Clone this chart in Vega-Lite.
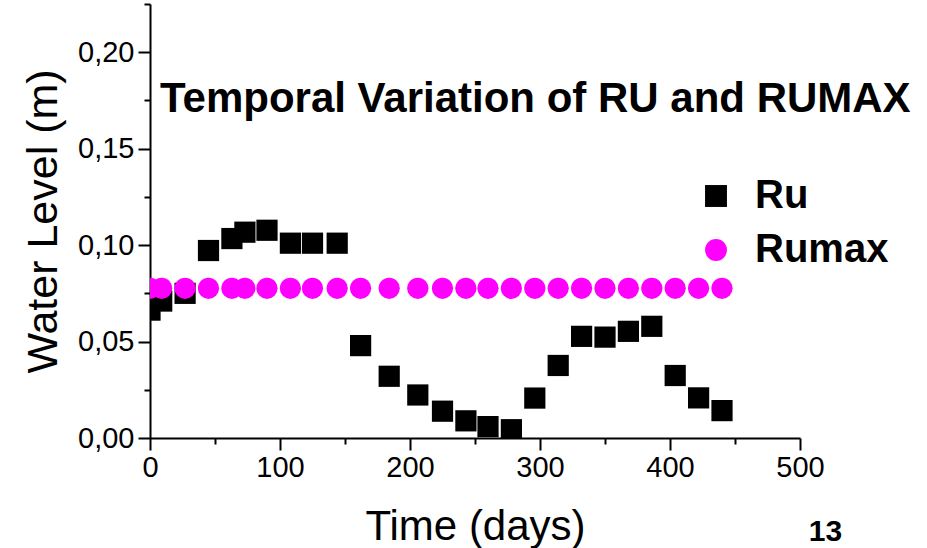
{
  "$schema": "https://vega.github.io/schema/vega-lite/v6.json",
  "width": 650,
  "height": 434,
  "autosize": {"type": "none"},
  "padding": {"left": 150, "top": 4, "right": 127, "bottom": 110},
  "background": "white",
  "config": {
    "view": {"stroke": null},
    "font": "Liberation Sans",
    "axis": {"grid": false, "domainColor": "black", "domainWidth": 2, "tickColor": "black", "tickWidth": 2, "labelColor": "black", "titleColor": "black", "labelFont": "Liberation Sans", "titleFont": "Liberation Sans"}
  },
  "title": {
    "text": "Temporal Variation of RU and RUMAX",
    "anchor": "start",
    "frame": "group",
    "dx": 10,
    "dy": 135,
    "fontSize": 42,
    "fontWeight": "bold",
    "font": "Liberation Sans",
    "color": "black"
  },
  "data": {
    "values": [
      {"day": 0, "series": "Ru", "value": 0.0663},
      {"day": 9, "series": "Ru", "value": 0.0710},
      {"day": 27, "series": "Ru", "value": 0.0750},
      {"day": 45, "series": "Ru", "value": 0.0972},
      {"day": 63, "series": "Ru", "value": 0.1034},
      {"day": 73, "series": "Ru", "value": 0.1067},
      {"day": 90, "series": "Ru", "value": 0.1077},
      {"day": 108, "series": "Ru", "value": 0.1010},
      {"day": 125, "series": "Ru", "value": 0.1010},
      {"day": 144, "series": "Ru", "value": 0.1010},
      {"day": 162, "series": "Ru", "value": 0.0479},
      {"day": 184, "series": "Ru", "value": 0.0320},
      {"day": 206, "series": "Ru", "value": 0.0223},
      {"day": 225, "series": "Ru", "value": 0.0139},
      {"day": 243, "series": "Ru", "value": 0.0089},
      {"day": 260, "series": "Ru", "value": 0.0059},
      {"day": 278, "series": "Ru", "value": 0.0043},
      {"day": 296, "series": "Ru", "value": 0.0207},
      {"day": 314, "series": "Ru", "value": 0.0376},
      {"day": 332, "series": "Ru", "value": 0.0527},
      {"day": 350, "series": "Ru", "value": 0.0523},
      {"day": 368, "series": "Ru", "value": 0.0553},
      {"day": 386, "series": "Ru", "value": 0.0579},
      {"day": 404, "series": "Ru", "value": 0.0324},
      {"day": 422, "series": "Ru", "value": 0.0208},
      {"day": 440, "series": "Ru", "value": 0.0142},
      {"day": 0, "series": "Rumax", "value": 0.0776},
      {"day": 9, "series": "Rumax", "value": 0.0776},
      {"day": 27, "series": "Rumax", "value": 0.0776},
      {"day": 45, "series": "Rumax", "value": 0.0776},
      {"day": 63, "series": "Rumax", "value": 0.0776},
      {"day": 73, "series": "Rumax", "value": 0.0776},
      {"day": 90, "series": "Rumax", "value": 0.0776},
      {"day": 108, "series": "Rumax", "value": 0.0776},
      {"day": 125, "series": "Rumax", "value": 0.0776},
      {"day": 144, "series": "Rumax", "value": 0.0776},
      {"day": 162, "series": "Rumax", "value": 0.0776},
      {"day": 184, "series": "Rumax", "value": 0.0776},
      {"day": 206, "series": "Rumax", "value": 0.0776},
      {"day": 225, "series": "Rumax", "value": 0.0776},
      {"day": 243, "series": "Rumax", "value": 0.0776},
      {"day": 260, "series": "Rumax", "value": 0.0776},
      {"day": 278, "series": "Rumax", "value": 0.0776},
      {"day": 296, "series": "Rumax", "value": 0.0776},
      {"day": 314, "series": "Rumax", "value": 0.0776},
      {"day": 332, "series": "Rumax", "value": 0.0776},
      {"day": 350, "series": "Rumax", "value": 0.0776},
      {"day": 368, "series": "Rumax", "value": 0.0776},
      {"day": 386, "series": "Rumax", "value": 0.0776},
      {"day": 404, "series": "Rumax", "value": 0.0776},
      {"day": 422, "series": "Rumax", "value": 0.0776},
      {"day": 440, "series": "Rumax", "value": 0.0776}
    ]
  },
  "layer": [
    {
      "mark": {"type": "point", "filled": true, "opacity": 1, "size": 450, "clip": true},
      "encoding": {
        "x": {
          "field": "day", "type": "quantitative",
          "scale": {"domain": [0, 500], "nice": false, "zero": false},
          "axis": {
            "values": [0, 50, 100, 150, 200, 250, 300, 350, 400, 450, 500],
            "labelExpr": "datum.value % 100 == 0 ? datum.label : ''",
            "format": "d",
            "tickSize": {"condition": {"test": "datum.value % 100 == 0", "value": 12}, "value": 6},
            "labelFontSize": 29,
            "labelPadding": 3,
            "labelFlush": false,
            "labelOverlap": false,
            "title": "Time (days)",
            "titleFontSize": 42,
            "titleFontWeight": "normal",
            "titlePadding": 24
          }
        },
        "y": {
          "field": "value", "type": "quantitative",
          "scale": {"domain": [0, 0.225], "nice": false, "zero": true},
          "axis": {
            "values": [0, 0.025, 0.05, 0.075, 0.1, 0.125, 0.15, 0.175, 0.2, 0.225],
            "labelExpr": "abs(datum.value*20 - round(datum.value*20)) < 0.001 && datum.value < 0.21 ? replace(format(datum.value, '.2f'), '.', ',') : ''",
            "tickSize": {"condition": {"test": "abs(datum.value*20 - round(datum.value*20)) < 0.001", "value": 12}, "value": 6},
            "labelFontSize": 29,
            "labelPadding": 4,
            "labelFlush": false,
            "labelOverlap": false,
            "title": "Water Level (m)",
            "titleFontSize": 43,
            "titleFontWeight": "normal",
            "titlePadding": 12
          }
        },
        "color": {
          "field": "series", "type": "nominal",
          "scale": {"domain": ["Ru", "Rumax"], "range": ["#000000", "#ff00ff"]},
          "legend": {
            "title": null,
            "orient": "none",
            "legendX": 546,
            "legendY": 172,
            "padding": 0,
            "symbolSize": 480,
            "symbolStrokeWidth": 0,
            "labelFontSize": 40,
            "labelFontWeight": "bold",
            "labelColor": "black",
            "labelFont": "Liberation Sans",
            "labelOffset": 19,
            "rowPadding": 14
          }
        },
        "shape": {
          "field": "series", "type": "nominal",
          "scale": {"domain": ["Ru", "Rumax"], "range": ["square", "circle"]}
        }
      }
    },
    {
      "mark": {"type": "point", "opacity": 0},
      "encoding": {
        "x": {"field": "day", "type": "quantitative"},
        "y": {
          "field": "value", "type": "quantitative",
          "axis": {
            "orient": "right",
            "domain": false,
            "ticks": false,
            "labels": false,
            "title": "13",
            "titleAngle": 0,
            "titleFontSize": 30,
            "titleFontWeight": "bold",
            "titleAlign": "center",
            "titleBaseline": "middle",
            "titleX": 25,
            "titleY": 527
          }
        }
      }
    }
  ],
  "resolve": {"axis": {"y": "independent"}}
}
